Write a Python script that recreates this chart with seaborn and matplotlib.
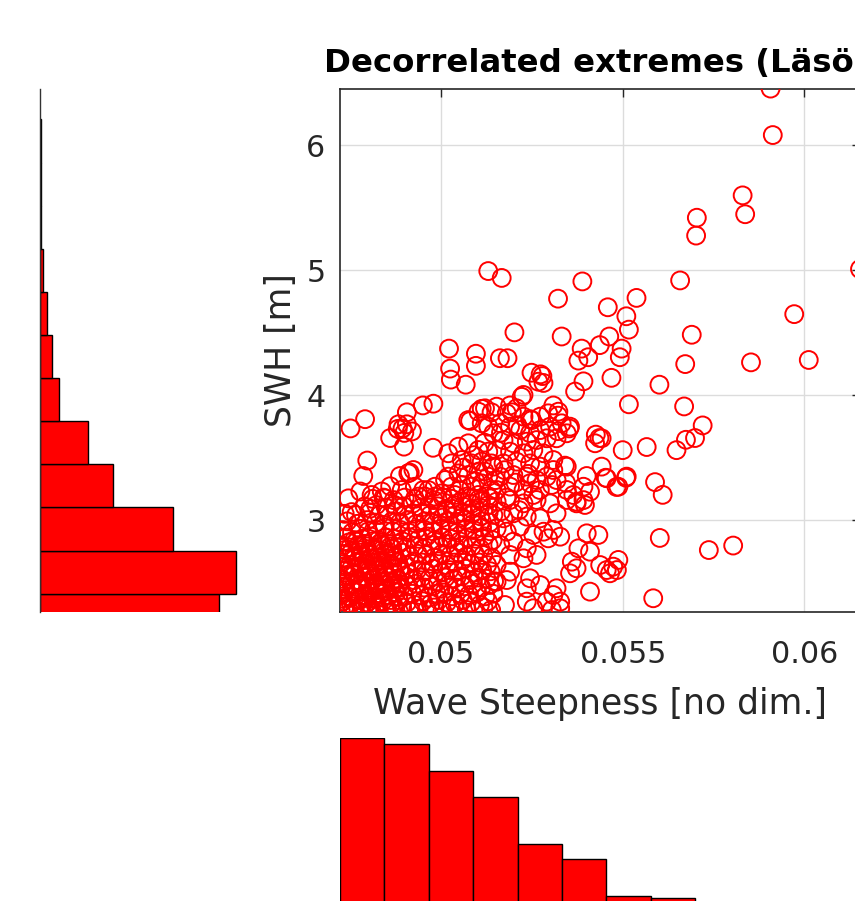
import numpy as np
import pandas as pd
import matplotlib
matplotlib.use("Agg")
import matplotlib.pyplot as plt
import seaborn as sns

# ---- scatter data (steepness, SWH) ----
upper_pts = [
    (0.05907, 6.455), (0.05913, 6.083), (0.05830, 5.600), (0.05837, 5.449),
    (0.05704, 5.421), (0.05702, 5.278), (0.05130, 4.994), (0.05167, 4.939),
    (0.05389, 4.911), (0.05658, 4.919), (0.05322, 4.773), (0.05459, 4.704),
    (0.05538, 4.779), (0.05510, 4.632), (0.05517, 4.525), (0.05202, 4.503),
    (0.05332, 4.470), (0.05463, 4.470), (0.05690, 4.484), (0.05972, 4.649),
    (0.05853, 4.263), (0.06012, 4.282), (0.05672, 4.249), (0.05469, 4.139),
    (0.05497, 4.373), (0.05492, 4.304), (0.05437, 4.401), (0.05387, 4.373),
    (0.05378, 4.277), (0.05405, 4.304), (0.05249, 4.180), (0.05274, 4.167),
    (0.05022, 4.373), (0.05025, 4.213), (0.05027, 4.125), (0.05096, 4.332),
    (0.05096, 4.235), (0.05162, 4.296), (0.05183, 4.296), (0.06153, 5.010),
]

right_pts = [
    (0.05601, 4.084), (0.05669, 3.910), (0.05720, 3.758), (0.05699, 3.657),
    (0.05674, 3.643), (0.05648, 3.560), (0.05589, 3.304), (0.05610, 3.202),
    (0.05602, 2.857), (0.05737, 2.760), (0.05804, 2.796), (0.05584, 2.374),
    (0.05566, 3.585),
]

mid_pts = [
    (0.05517, 3.927), (0.05500, 3.560), (0.05426, 3.684), (0.05436, 3.657),
    (0.05424, 3.615), (0.05509, 3.339), (0.05483, 3.265), (0.05453, 3.339),
    (0.05341, 3.436), (0.05344, 3.298), (0.05392, 3.160), (0.05373, 3.147),
    (0.05401, 3.353), (0.05353, 3.734), (0.05321, 3.712), (0.05309, 3.918),
    (0.05322, 3.836), (0.05222, 3.987), (0.05190, 3.918), (0.05195, 3.863),
    (0.05245, 3.808), (0.05112, 3.891), (0.05139, 3.863), (0.05080, 3.794),
    (0.05392, 4.111), (0.05369, 4.029), (0.05282, 4.098), (0.05279, 4.153),
    (0.05227, 4.002), (0.05268, 4.108), (0.05355, 3.748), (0.05442, 3.655),
    (0.05346, 3.428), (0.05442, 3.428), (0.05511, 3.348), (0.05456, 3.335),
    (0.05392, 3.267), (0.05410, 3.227), (0.05488, 3.267), (0.05318, 3.321),
    (0.05305, 3.281), (0.05346, 3.241), (0.05364, 3.201), (0.05272, 3.241),
    (0.05245, 3.295),
    (0.05153, 3.908), (0.05181, 3.855), (0.05208, 3.895), (0.05227, 3.828),
    (0.05250, 3.801), (0.05273, 3.828), (0.05295, 3.855), (0.05323, 3.868),
    (0.05332, 3.775), (0.05300, 3.748), (0.05273, 3.721), (0.05245, 3.695),
    (0.05218, 3.721), (0.05190, 3.748), (0.05163, 3.775), (0.05144, 3.695),
    (0.05172, 3.641), (0.05199, 3.615), (0.05236, 3.628), (0.05263, 3.641),
    (0.05291, 3.655), (0.05318, 3.655), (0.05346, 3.695), (0.05153, 3.561),
    (0.05190, 3.548), (0.05227, 3.535), (0.05254, 3.561), (0.05282, 3.535),
    (0.05309, 3.481), (0.05273, 3.428), (0.05245, 3.454), (0.05208, 3.468),
    (0.05172, 3.454), (0.05144, 3.428), (0.05163, 3.348), (0.05199, 3.361),
    (0.05236, 3.348), (0.05263, 3.321), (0.05190, 3.268), (0.05153, 3.241),
    (0.05227, 3.241), (0.05254, 3.201), (0.05291, 3.348), (0.05309, 3.401),
]

left_pts = [
    (0.04751, 3.734), (0.04791, 3.808), (0.04979, 3.932), (0.04950, 3.918),
    (0.04906, 3.863), (0.04883, 3.767), (0.04894, 3.734), (0.04906, 3.767),
    (0.04899, 3.698), (0.04860, 3.657), (0.04898, 3.588), (0.04978, 3.579),
    (0.04797, 3.477), (0.04786, 3.353), (0.04778, 3.229), (0.04754, 3.064),
    (0.04837, 3.229), (0.04805, 3.091), (0.04914, 3.381), (0.04887, 3.353),
    (0.04860, 3.271), (0.04920, 3.710), (0.04881, 3.730), (0.04910, 3.375),
    (0.04924, 3.401), (0.04892, 3.241), (0.04928, 3.267), (0.04951, 3.241),
    (0.04983, 3.267), (0.05011, 3.321), (0.05075, 3.801), (0.05103, 3.868),
    (0.05121, 3.895), (0.05112, 3.775), (0.05130, 3.748), (0.04745, 3.174),
    (0.04809, 3.201), (0.04846, 3.174), (0.04938, 3.188), (0.04965, 3.241),
    (0.05068, 4.084),
    (0.05020, 3.535), (0.05048, 3.588), (0.05075, 3.615), (0.05103, 3.561),
    (0.05130, 3.548), (0.05029, 3.454), (0.05057, 3.481), (0.05084, 3.454),
    (0.05112, 3.468), (0.05139, 3.454), (0.05020, 3.348), (0.05048, 3.374),
    (0.05075, 3.361), (0.05103, 3.388), (0.05130, 3.348), (0.05029, 3.268),
    (0.05057, 3.281), (0.05084, 3.268), (0.05112, 3.294), (0.05139, 3.241),
    (0.05038, 3.201), (0.05071, 3.188), (0.05103, 3.201), (0.05135, 3.174),
    (0.05002, 3.214), (0.04983, 3.188),
]

lower_right_pts = [
    (0.05153, 3.148), (0.05190, 3.161), (0.05227, 3.134), (0.05263, 3.161),
    (0.05300, 3.134), (0.05346, 3.161), (0.05373, 3.134), (0.05396, 3.121),
    (0.05318, 3.054), (0.05144, 3.041), (0.05172, 3.014), (0.05199, 3.054),
    (0.05236, 3.028), (0.05273, 3.014), (0.05153, 2.934), (0.05181, 2.907),
    (0.05217, 2.947), (0.05254, 2.881), (0.05282, 2.907), (0.05309, 2.921),
    (0.05328, 2.867), (0.05295, 2.854), (0.05401, 2.894), (0.05433, 2.881),
    (0.05378, 2.774), (0.05410, 2.747), (0.05360, 2.667), (0.05373, 2.614),
    (0.05355, 2.574), (0.05438, 2.640), (0.05456, 2.600), (0.05474, 2.627),
    (0.05488, 2.681), (0.05484, 2.600), (0.05465, 2.574), (0.05163, 2.801),
    (0.05199, 2.827), (0.05236, 2.774), (0.05190, 2.721), (0.05227, 2.694),
    (0.05263, 2.721), (0.05153, 2.641), (0.05190, 2.587), (0.05153, 2.507),
    (0.05181, 2.520), (0.05245, 2.534), (0.05236, 2.454), (0.05273, 2.480),
    (0.05318, 2.454), (0.05309, 2.400), (0.05291, 2.347), (0.05328, 2.347),
    (0.05410, 2.427), (0.05176, 2.320), (0.05236, 2.347), (0.05254, 2.294),
    (0.05305, 2.280), (0.05328, 2.294),
]

band_pts = [
    (0.05005, 3.02), (0.05032, 3.09), (0.05058, 3.02), (0.05085, 3.09),
    (0.05110, 3.15), (0.05050, 3.24), (0.05095, 3.31), (0.05120, 3.39),
    (0.05062, 3.42), (0.05090, 3.52), (0.05150, 3.32), (0.05175, 3.40),
    (0.05205, 3.30), (0.05180, 3.18), (0.05215, 3.08), (0.05165, 3.07),
    (0.05240, 3.37), (0.05120, 3.62), (0.05165, 3.70), (0.05210, 3.76),
]

core_pts = [
    (0.04724, 2.27), (0.04745, 2.29), (0.04763, 2.27), (0.04787, 2.30), (0.04808, 2.28),
    (0.04829, 2.27), (0.04851, 2.29), (0.04874, 2.28), (0.04893, 2.30), (0.04917, 2.27),
    (0.04938, 2.29), (0.04961, 2.28), (0.04982, 2.30), (0.05004, 2.27), (0.05027, 2.29),
    (0.05046, 2.31), (0.05071, 2.28), (0.05095, 2.27), (0.05117, 2.30), (0.05138, 2.28),
    (0.04731, 2.35), (0.04752, 2.33), (0.04776, 2.36), (0.04797, 2.34), (0.04820, 2.32),
    (0.04839, 2.35), (0.04863, 2.33), (0.04884, 2.36), (0.04906, 2.34), (0.04929, 2.32),
    (0.04950, 2.35), (0.04972, 2.33), (0.04993, 2.36), (0.05016, 2.34), (0.05038, 2.33),
    (0.05060, 2.36), (0.05083, 2.34), (0.05107, 2.32), (0.05129, 2.35),
    (0.04725, 2.41), (0.04747, 2.39), (0.04769, 2.42), (0.04790, 2.40), (0.04811, 2.38),
    (0.04834, 2.41), (0.04856, 2.40), (0.04877, 2.42), (0.04899, 2.39), (0.04921, 2.41),
    (0.04943, 2.40), (0.04966, 2.38), (0.04988, 2.41), (0.05009, 2.42), (0.05031, 2.39),
    (0.05054, 2.41), (0.05077, 2.40), (0.05099, 2.42), (0.05122, 2.39), (0.05144, 2.41),
    (0.04734, 2.47), (0.04756, 2.45), (0.04779, 2.48), (0.04800, 2.46), (0.04822, 2.47),
    (0.04845, 2.45), (0.04866, 2.48), (0.04888, 2.46), (0.04910, 2.47), (0.04931, 2.49),
    (0.04954, 2.46), (0.04977, 2.47), (0.04998, 2.45), (0.05020, 2.48), (0.05042, 2.46),
    (0.05066, 2.47), (0.05088, 2.49), (0.05111, 2.46), (0.05133, 2.48),
    (0.04726, 2.53), (0.04748, 2.55), (0.04770, 2.52), (0.04793, 2.54), (0.04814, 2.53),
    (0.04836, 2.51), (0.04858, 2.54), (0.04880, 2.53), (0.04902, 2.55), (0.04925, 2.52),
    (0.04946, 2.54), (0.04968, 2.53), (0.04991, 2.51), (0.05012, 2.54), (0.05035, 2.53),
    (0.05057, 2.55), (0.05080, 2.52), (0.05102, 2.54), (0.05125, 2.53), (0.05146, 2.51),
    (0.04735, 2.60), (0.04757, 2.58), (0.04780, 2.61), (0.04802, 2.59), (0.04824, 2.60),
    (0.04846, 2.58), (0.04868, 2.61), (0.04890, 2.59), (0.04912, 2.57), (0.04934, 2.60),
    (0.04957, 2.59), (0.04979, 2.61), (0.05001, 2.58), (0.05023, 2.60), (0.05046, 2.59),
    (0.05068, 2.61), (0.05091, 2.58), (0.05113, 2.60), (0.05136, 2.59),
    (0.04727, 2.66), (0.04749, 2.64), (0.04771, 2.67), (0.04794, 2.65), (0.04816, 2.66),
    (0.04838, 2.68), (0.04860, 2.65), (0.04882, 2.66), (0.04904, 2.64), (0.04926, 2.67),
    (0.04948, 2.66), (0.04971, 2.65), (0.04993, 2.67), (0.05015, 2.64), (0.05037, 2.66),
    (0.05060, 2.68), (0.05082, 2.65), (0.05105, 2.66), (0.05127, 2.64),
    (0.04737, 2.73), (0.04759, 2.71), (0.04781, 2.74), (0.04803, 2.72), (0.04826, 2.70),
    (0.04848, 2.73), (0.04870, 2.72), (0.04892, 2.74), (0.04914, 2.71), (0.04936, 2.73),
    (0.04959, 2.72), (0.04981, 2.70), (0.05003, 2.73), (0.05026, 2.72), (0.05048, 2.74),
    (0.05070, 2.71), (0.05093, 2.73), (0.05116, 2.72), (0.05139, 2.70),
    (0.04728, 2.79), (0.04750, 2.78), (0.04773, 2.80), (0.04795, 2.79), (0.04817, 2.77),
    (0.04839, 2.80), (0.04861, 2.79), (0.04884, 2.81), (0.04906, 2.78), (0.04928, 2.79),
    (0.04950, 2.77), (0.04973, 2.80), (0.04995, 2.79), (0.05017, 2.81), (0.05040, 2.78),
    (0.05062, 2.80), (0.05085, 2.79), (0.05108, 2.77), (0.05131, 2.80),
    (0.04739, 2.86), (0.04761, 2.84), (0.04783, 2.85), (0.04806, 2.87), (0.04828, 2.84),
    (0.04850, 2.86), (0.04872, 2.85), (0.04894, 2.83), (0.04917, 2.86), (0.04939, 2.85),
    (0.04961, 2.87), (0.04984, 2.84), (0.05006, 2.86), (0.05028, 2.85), (0.05051, 2.83),
    (0.05073, 2.86), (0.05096, 2.85), (0.05119, 2.87), (0.05142, 2.84),
    (0.04730, 2.92), (0.04755, 2.90), (0.04778, 2.93), (0.04800, 2.91), (0.04823, 2.92),
    (0.04845, 2.94), (0.04867, 2.91), (0.04889, 2.92), (0.04911, 2.90), (0.04934, 2.93),
    (0.04956, 2.92), (0.04978, 2.91), (0.05000, 2.93), (0.05023, 2.92), (0.05045, 2.90),
    (0.05068, 2.93), (0.05090, 2.92), (0.05113, 2.94), (0.05135, 2.91),
    (0.04742, 2.99), (0.04770, 2.97), (0.04797, 3.00), (0.04820, 2.98), (0.04843, 2.96),
    (0.04865, 2.99), (0.04887, 2.98), (0.04910, 3.00), (0.04932, 2.97), (0.04955, 2.99),
    (0.04977, 2.98), (0.04999, 2.96), (0.05022, 2.99), (0.05044, 2.98), (0.05067, 3.00),
    (0.05089, 2.97), (0.05112, 2.99), (0.05134, 2.98),
    (0.04735, 3.05), (0.04766, 3.04), (0.04805, 3.06), (0.04830, 3.04), (0.04854, 3.05),
    (0.04878, 3.07), (0.04901, 3.04), (0.04924, 3.05), (0.04947, 3.06), (0.04970, 3.04),
    (0.04993, 3.05), (0.05016, 3.07), (0.05039, 3.04), (0.05062, 3.06), (0.05085, 3.05),
    (0.05108, 3.03), (0.05131, 3.06),
    (0.04790, 3.11), (0.04822, 3.12), (0.04848, 3.10), (0.04873, 3.12), (0.04897, 3.11),
    (0.04921, 3.13), (0.04945, 3.10), (0.04968, 3.12), (0.04991, 3.11), (0.05014, 3.09),
    (0.05037, 3.12), (0.05060, 3.11), (0.05083, 3.13), (0.05107, 3.10), (0.05130, 3.12),
    (0.04812, 3.17), (0.04842, 3.18), (0.04870, 3.16), (0.04900, 3.18), (0.04928, 3.17),
    (0.04955, 3.19), (0.04980, 3.16), (0.05005, 3.18), (0.05030, 3.17), (0.05055, 3.15),
    (0.05080, 3.18), (0.05105, 3.17), (0.05128, 3.19),
]

# extra points where the cloud is thickest (low steepness, low SWH)
dense_pts = [
    (0.04735, 2.31), (0.04757, 2.29), (0.04780, 2.32), (0.04802, 2.30), (0.04824, 2.31),
    (0.04846, 2.29), (0.04869, 2.32),
    (0.04728, 2.37), (0.04750, 2.38), (0.04772, 2.36), (0.04795, 2.39), (0.04817, 2.37),
    (0.04838, 2.38), (0.04861, 2.36), (0.04882, 2.39),
    (0.04738, 2.44), (0.04761, 2.43), (0.04783, 2.45), (0.04806, 2.42), (0.04828, 2.44),
    (0.04850, 2.43), (0.04872, 2.45),
    (0.04731, 2.50), (0.04753, 2.49), (0.04776, 2.51), (0.04798, 2.50), (0.04819, 2.48),
    (0.04842, 2.50), (0.04864, 2.51), (0.04886, 2.49),
    (0.04740, 2.56), (0.04762, 2.57), (0.04785, 2.55), (0.04807, 2.57), (0.04829, 2.56),
    (0.04851, 2.55), (0.04873, 2.57),
    (0.04732, 2.63), (0.04754, 2.62), (0.04777, 2.63), (0.04799, 2.61), (0.04821, 2.63),
    (0.04843, 2.62), (0.04865, 2.64), (0.04887, 2.62),
    (0.04741, 2.69), (0.04763, 2.70), (0.04786, 2.68), (0.04808, 2.69), (0.04830, 2.67),
    (0.04852, 2.69), (0.04874, 2.70),
    (0.04733, 2.76), (0.04755, 2.75), (0.04778, 2.76), (0.04800, 2.74), (0.04822, 2.76),
    (0.04844, 2.75), (0.04866, 2.77),
    (0.04745, 2.82), (0.04768, 2.83), (0.04790, 2.81), (0.04812, 2.83), (0.04834, 2.82),
    (0.04856, 2.81),
]

# ---- marginal histograms (bin edges and counts) ----
swh_edges = [2.066, 2.411, 2.756, 3.102, 3.447, 3.792, 4.137,
             4.482, 4.827, 5.173, 5.518, 5.863, 6.208]
swh_counts = [330, 362, 246, 135, 89, 36, 23, 13, 5, 2, 1, 1]

steep_edges = [0.04722, 0.04844, 0.04966, 0.05089, 0.05211, 0.05333, 0.05455,
               0.05578, 0.05700, 0.05822, 0.05944, 0.06066, 0.06189]
steep_counts = [256, 248, 214, 180, 120, 101, 54, 51, 10, 6, 3, 2]

x_ticks = [0.05, 0.055, 0.06]
x_ticklabels = ["0.05", "0.055", "0.06"]
y_ticks = [3, 4, 5, 6]

all_pts = (upper_pts + right_pts + mid_pts + left_pts + lower_right_pts
           + band_pts + core_pts + dense_pts)
df = pd.DataFrame(all_pts, columns=["steepness", "swh"])

sns.set_theme(style="white")
plt.rcParams["font.family"] = ["DejaVu Sans"]

W, H = 855, 901
fig = plt.figure(figsize=(W / 100, H / 100), dpi=100)

def frac(left, top, right, bottom):
    return [left / W, 1 - bottom / H, (right - left) / W, (bottom - top) / H]

xlim = (0.04722, 0.06153)
ylim = (2.264, 6.455)
axcol = "#262626"

# main scatter
ax = fig.add_axes(frac(340, 88.6, 860, 612))
ax.set_axisbelow(True)
ax.grid(True, color="#dcdcdc", linewidth=1.0)
sns.scatterplot(data=df, x="steepness", y="swh", ax=ax, marker="o", s=165,
                facecolors="none", edgecolor="red", linewidth=1.4, zorder=3)
ax.set_xlim(xlim)
ax.set_ylim(ylim)
ax.set_xticks(x_ticks)
ax.set_xticklabels(x_ticklabels)
ax.set_yticks(y_ticks)
ax.tick_params(direction="in", length=6, width=1.0, colors=axcol,
               labelsize=21.7, top=True, right=True)
ax.tick_params(axis="x", pad=20)
ax.tick_params(axis="y", pad=10.5)
for sp in ax.spines.values():
    sp.set_color(axcol)
    sp.set_linewidth(1.2)
ax.set_xlabel("Wave Steepness [no dim.]", fontsize=24.9, color=axcol, labelpad=13)
ax.set_ylabel("SWH [m]", fontsize=24.9, color=axcol, labelpad=6)
ax.set_title("Decorrelated extremes (Läsö)", fontsize=23.3, fontweight="bold",
             color="black", pad=12, x=0.492)

# left marginal histogram (horizontal bars)
axl = fig.add_axes(frac(40, 88.6, 240, 612))
swh_centers = [(a + b) / 2 for a, b in zip(swh_edges[:-1], swh_edges[1:])]
sns.histplot(y=swh_centers, weights=swh_counts, bins=swh_edges, ax=axl,
             color="red", alpha=1, edgecolor="black", linewidth=1.0)
axl.set_ylim(ylim)
axl.set_xlim(0, 369.4)
axl.set_xticks([])
axl.set_yticks([])
axl.set_xlabel("")
axl.set_ylabel("")
for name, sp in axl.spines.items():
    sp.set_visible(name == "left")
axl.spines["left"].set_color("#333333")
axl.spines["left"].set_linewidth(1.0)

# bottom marginal histogram
axb = fig.add_axes(frac(340, 737.7, 860, 938))
steep_centers = [(a + b) / 2 for a, b in zip(steep_edges[:-1], steep_edges[1:])]
sns.histplot(x=steep_centers, weights=steep_counts, bins=steep_edges, ax=axb,
             color="red", alpha=1, edgecolor="black", linewidth=1.0)
axb.set_xlim(xlim)
axb.set_ylim(0, 256)
axb.set_xticks([])
axb.set_yticks([])
axb.set_xlabel("")
axb.set_ylabel("")
for sp in axb.spines.values():
    sp.set_visible(False)

fig.savefig("out.png", dpi=100)
